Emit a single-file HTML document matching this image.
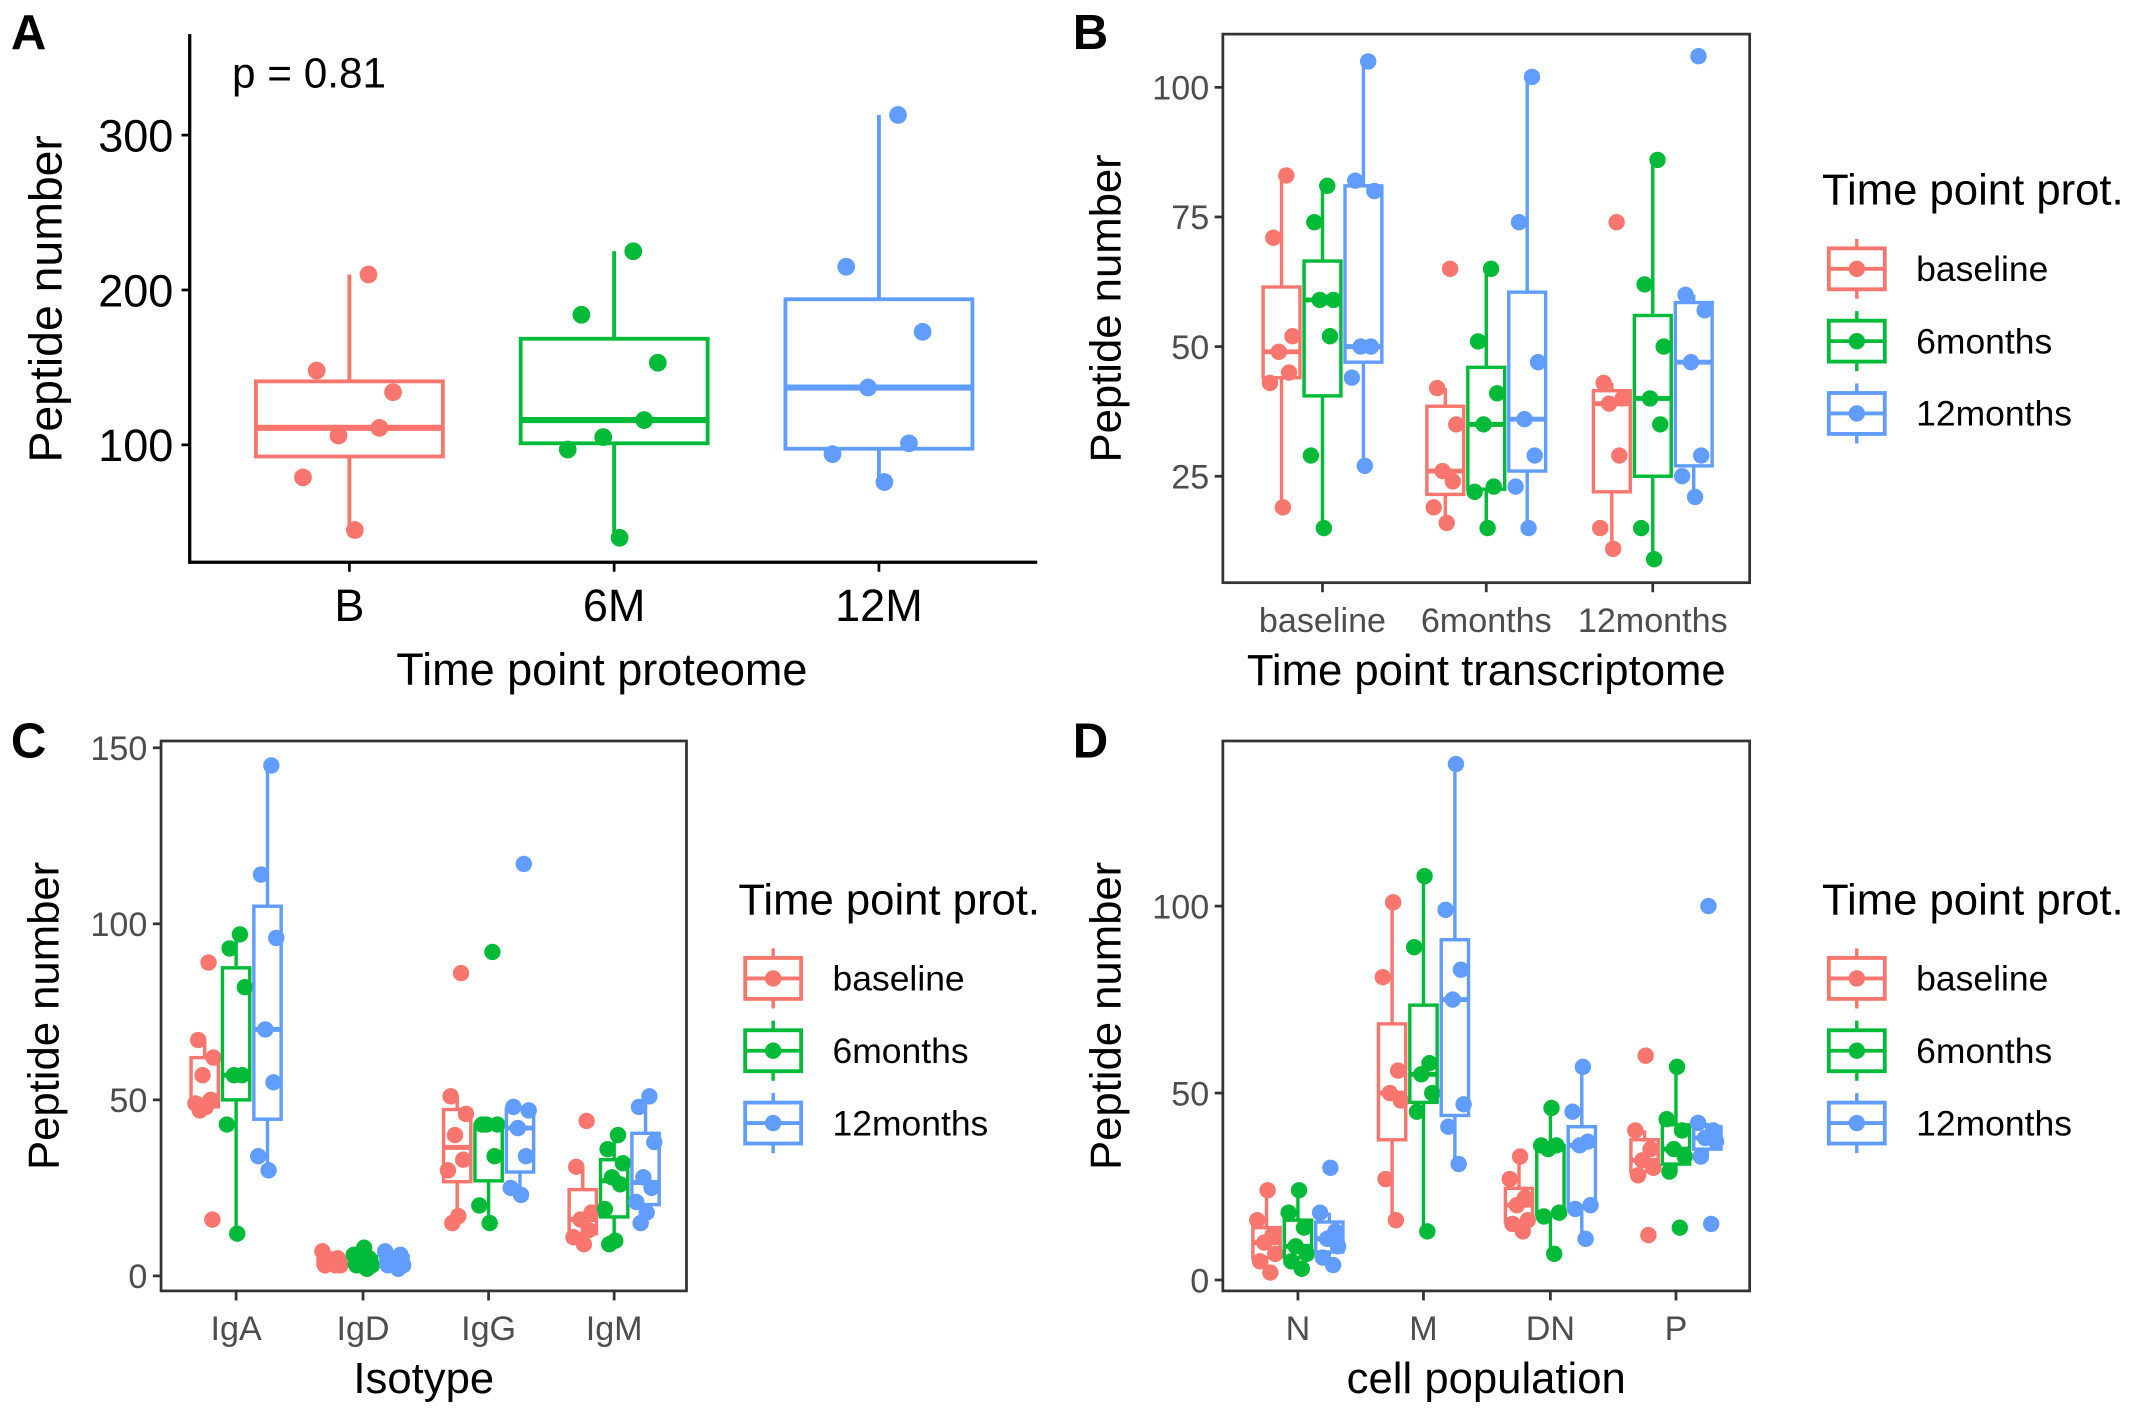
<!DOCTYPE html>
<html><head><meta charset="utf-8">
<style>
html,body{margin:0;padding:0;background:#fff;}
svg{display:block;}
text{font-family:"Liberation Sans",sans-serif;}
</style></head>
<body>
<svg id="fig" width="2140" height="1426" viewBox="0 0 1568 1045" preserveAspectRatio="none" xmlns="http://www.w3.org/2000/svg">
<rect x="0" y="0" width="1568" height="1045" fill="#fff"/>
</svg>
<script>
// ---------- DATA ----------
const seriesNames = ["baseline","6months","12months"];
const colors = ["#F8766D","#00BA38","#619CFF"];

// Panel A
const aCategories = ["B","6M","12M"];
const aPoints = [
  [210,148,134,106,111,79,45],
  [225,184,153,105,116,97,40],
  [313,215,173,137,101,94,76]
];
const aTicks = [100,200,300];
const aPText = "p = 0.81";

// Panel B
const bCategories = ["baseline","6months","12months"];
const bBaseline = [[83,71,52,49,45,43,19],[65,42,35,26,24,19,16],[74,43,40,39,29,15,11]];
const b6months  = [[81,74,59,59,52,29,15],[65,51,41,35,23,22,15],[86,62,50,40,35,15,9]];
const b12months = [[105,82,80,50,50,44,27],[102,74,47,36,29,23,15],[106,60,57,47,29,25,21]];
const bTicks = [25,50,75,100];

// Panel C
const cCategories = ["IgA","IgD","IgG","IgM"];
const cBaseline = [[89,67,62,57,50,49,48,47,16],[3,3,3,4,5,7],[86,51,46,40,33,30,17,15],[44,31,18,16,13,11,9]];
const c6months  = [[97,93,82,57,57,43,12],[2,3,3,4,5,6,8],[92,43,43,43,34,20,15],[40,36,32,28,26,19,10,9]];
const c12months = [[145,114,96,70,55,34,30],[2,3,3,5,6,7],[117,48,47,42,34,25,23],[51,48,38,28,25,21,18,15]];
const cTicks = [0,50,100,150];

// Panel D
const dCategories = ["N","M","DN","P"];
const dBaseline = [[2,5,7,10,12,16,24],[16,27,48,50,56,81,101],[13,15,16,20,22,27,33],[12,28,30,32,35,40,60]];
const d6months  = [[3,5,7,9,14,18,24],[13,45,50,55,58,89,108],[7,17,18,35,36,36,46],[14,29,33,35,40,43,57]];
const d12months = [[4,6,9,11,13,18,30],[31,41,47,75,83,99,138],[11,19,20,36,37,45,57],[15,33,37,38,40,42,100]];
const dTicks = [0,50,100];

// ---------- HELPERS ----------
const svg = document.getElementById('fig');
const NS = "http://www.w3.org/2000/svg";
function el(tag, attrs, parent){
  const e = document.createElementNS(NS, tag);
  for (const k in attrs) e.setAttribute(k, attrs[k]);
  (parent||svg).appendChild(e);
  return e;
}
function txt(s, attrs, parent){ const t = el('text', attrs, parent); t.textContent = s; return t; }
const jit = [0.35,-0.6,0.8,-0.2,0.55,-0.85,0.1,-0.45,0.7,-0.1];
function quant(sorted, p){
  const h = (sorted.length-1)*p, lo = Math.floor(h), hi = Math.ceil(h);
  return sorted[lo] + (sorted[hi]-sorted[lo])*(h-lo);
}
function stats(vals){
  const s = vals.slice().sort((a,b)=>a-b);
  const q1 = quant(s,0.25), med = quant(s,0.5), q3 = quant(s,0.75), iqr = q3-q1;
  const lo = s.find(v=>v>=q1-1.5*iqr), hi = [...s].reverse().find(v=>v<=q3+1.5*iqr);
  return {q1,med,q3,lo,hi};
}
function drawBox(g, cx, w, vals, color, yf, sw, medSw, r, jw){
  const st = stats(vals);
  const box = el('g', {}, g);
  
  
  el('line',{x1:cx,x2:cx,y1:yf(st.hi),y2:yf(st.q3),stroke:color,'stroke-width':sw},box);
  el('line',{x1:cx,x2:cx,y1:yf(st.q1),y2:yf(st.lo),stroke:color,'stroke-width':sw},box);
  el('rect',{x:cx-w/2,y:yf(st.q3),width:w,height:yf(st.q1)-yf(st.q3),fill:'none',stroke:color,'stroke-width':sw},box);
  el('line',{x1:cx-w/2,x2:cx+w/2,y1:yf(st.med),y2:yf(st.med),stroke:color,'stroke-width':medSw},box);
  vals.forEach((v,i)=>{
    const c = el('circle',{cx:cx+jit[i%jit.length]*jw,cy:yf(v),r:r,fill:color},g);
    
    
  });
}
function legend(x, y){
  const g = el('g',{});
  
  
  txt('Time point prot.',{x:x,y:y,'font-size':32,fill:'#000'},g);
  seriesNames.forEach((n,i)=>{
    const cy = y+47+i*53, kx = x+5;
    const e = el('g',{},g);
    
    
    el('line',{x1:kx+20.5,x2:kx+20.5,y1:cy-22,y2:cy+22,stroke:colors[i],'stroke-width':2.5},e);
    el('rect',{x:kx,y:cy-15,width:41,height:30,fill:'#fff',stroke:colors[i],'stroke-width':2.8},e);
    el('line',{x1:kx,x2:kx+41,y1:cy,y2:cy,stroke:colors[i],'stroke-width':2.8},e);
    el('circle',{cx:kx+20.5,cy:cy,r:6,fill:colors[i]},e);
    txt(n,{x:x+69,y:cy+9,'font-size':26,fill:'#000'},e);
  });
}
function letter(s,x,y){
  const t = txt(s,{x:x,y:y,'font-size':36,'font-weight':'bold',fill:'#000'});
  
  
}

// ---------- PANEL A ----------
(function(){
  const g = el('g',{});
  
  
  const y = v => 326-(v-100)*1.135;
  const xs = [256,450,644];
  aCategories.forEach((c,i)=> drawBox(g, xs[i], 137, aPoints[i], colors[i], y, 2.8, 4.5, 6.5, 40));
  el('line',{x1:139,x2:139,y1:25,y2:413,stroke:'#000','stroke-width':2.4},g);
  el('line',{x1:138,x2:760,y1:412,y2:412,stroke:'#000','stroke-width':2.4},g);
  aTicks.forEach(t=>{
    el('line',{x1:133,x2:139,y1:y(t),y2:y(t),stroke:'#000','stroke-width':2},g);
    txt(String(t),{x:127,y:y(t)+12,'font-size':33,'text-anchor':'end',fill:'#000'},g);
  });
  aCategories.forEach((c,i)=>{
    el('line',{x1:xs[i],x2:xs[i],y1:412,y2:419,stroke:'#000','stroke-width':2},g);
    txt(c,{x:xs[i],y:455,'font-size':33,'text-anchor':'middle',fill:'#000'},g);
  });
  txt('Time point proteome',{x:441,y:502,'font-size':33,'text-anchor':'middle',fill:'#000'},g);
  txt('Peptide number',{x:0,y:0,'font-size':34,'text-anchor':'middle',fill:'#000',transform:'translate(45,219) rotate(-90)'},g);
  txt(aPText,{x:170,y:64,'font-size':31,fill:'#000'},g);
})();
letter('A',8,36);

// ---------- GROUPED PANELS ----------
function grouped(name, box, cats, cx, sets, yf, ticks, xTitle, off, bw, jw){
  const g = el('g',{});
  
  
  cats.forEach((c,i)=>{
    sets.forEach((s,k)=> drawBox(g, cx[i]+(k-1)*off, bw, s[i], colors[k], yf, 2.5, 3.6, 6, jw));
  });
  el('rect',{x:box[0],y:box[1],width:box[2]-box[0],height:box[3]-box[1],fill:'none',stroke:'#333','stroke-width':2},g);
  ticks.forEach(t=>{
    el('line',{x1:box[0]-6,x2:box[0],y1:yf(t),y2:yf(t),stroke:'#333','stroke-width':2},g);
    txt(String(t),{x:box[0]-10,y:yf(t)+9,'font-size':25,'text-anchor':'end',fill:'#4D4D4D'},g);
  });
  cats.forEach((c,i)=>{
    el('line',{x1:cx[i],x2:cx[i],y1:box[3],y2:box[3]+7,stroke:'#333','stroke-width':2},g);
    txt(c,{x:cx[i],y:box[3]+36,'font-size':25,'text-anchor':'middle',fill:'#4D4D4D'},g);
  });
  txt(xTitle,{x:(box[0]+box[2])/2,y:box[3]+75,'font-size':32,'text-anchor':'middle',fill:'#000'},g);
  txt('Peptide number',{x:0,y:0,'font-size':32,'text-anchor':'middle',fill:'#000',transform:'translate('+(box[0]-75)+','+((box[1]+box[3])/2)+') rotate(-90)'},g);
}
grouped('panel-b',[896,25,1282,427],bCategories,[969,1089,1211],[bBaseline,b6months,b12months],
  v=>254-(v-50)*3.8,bTicks,'Time point transcriptome',30,27,10);
grouped('panel-c',[118,543,503,946],cCategories,[173,266,358,450],[cBaseline,c6months,c12months],
  v=>935-v*2.58,cTicks,'Isotype',23,20,8);
grouped('panel-d',[896,543,1282,946],dCategories,[951,1043,1136,1228],[dBaseline,d6months,d12months],
  v=>938-v*2.74,dTicks,'cell population',23,20,8);
legend(1335,150); legend(541,670); legend(1335,670);
letter('B',786,36); letter('C',8,555); letter('D',786,555);
</script>
</body></html>
